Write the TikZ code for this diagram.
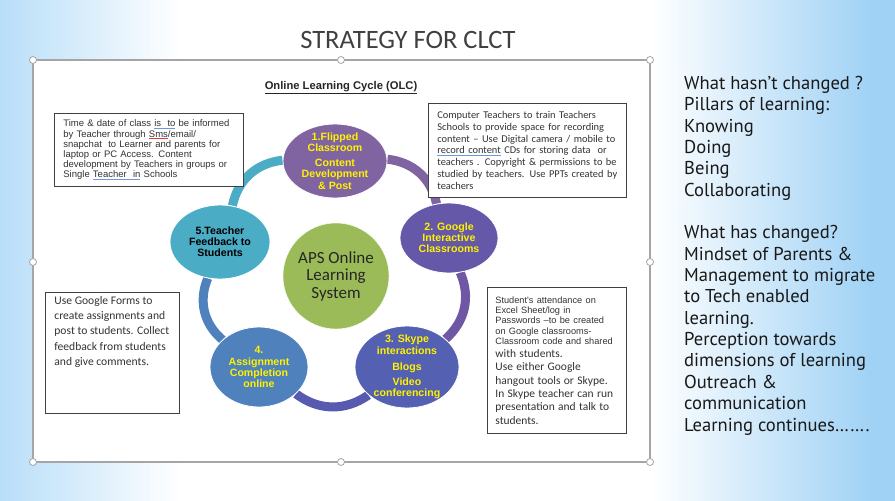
\documentclass[tikz,border=0pt]{standalone}
\usepackage{fontspec}
\setmainfont{Carlito}
\newfontfamily\arialfont{Liberation Sans}
\newfontfamily\notefont{PT Sans}
\usepackage{tikz}
\usetikzlibrary{shapes.geometric}
\usetikzlibrary{backgrounds}

\definecolor{skyleft}{RGB}{184,222,248}
\definecolor{skyright}{RGB}{160,210,245}
\definecolor{framegray}{RGB}{165,165,165}
\definecolor{olcgreen}{RGB}{155,187,89}
\definecolor{olcone}{RGB}{128,100,162}
\definecolor{olctwo}{RGB}{101,88,168}
\definecolor{olcthree}{RGB}{84,96,178}
\definecolor{olcfour}{RGB}{79,129,189}
\definecolor{olcfive}{RGB}{75,172,198}
\definecolor{ringtwo}{RGB}{110,88,166}
\definecolor{ringthree}{RGB}{88,90,176}
\definecolor{spellblue}{RGB}{110,150,220}
\definecolor{spellred}{RGB}{220,60,60}

% spell-check marks
\newsavebox\spellbox
\newcommand\blueline[1]{\leavevmode\sbox\spellbox{#1}\rlap{\textcolor{spellblue}{\rule[-1.8pt]{\wd\spellbox}{0.8pt}}}\usebox\spellbox}
\newcommand\redline[1]{\leavevmode\sbox\spellbox{#1}\rlap{\textcolor{spellred}{\rule[-1.8pt]{\wd\spellbox}{0.8pt}}}\usebox\spellbox}

\begin{document}
\begin{tikzpicture}[x=1pt, y=-1pt,
    cyc/.style={ellipse, draw=white, line width=0.8pt, inner sep=0pt},
    cyctext/.style={align=center, text=yellow, font=\arialfont\bfseries\fontsize{10.6}{11.2}\selectfont},
    ring/.style={line width=9pt},
    box/.style={draw=black!75, line width=0.8pt, fill=white, anchor=north west, align=left, inner xsep=9pt, inner ysep=4pt, text=black!80},
    handle/.style={circle, draw=framegray, fill=white, line width=0.8pt, minimum size=7pt, inner sep=0pt}]
    \useasboundingbox (0,0) rectangle (895,501);

    % Slide
    \begin{scope}[on background layer]
        \fill[white] (0,0) rectangle (895,501);
        \shade[left color=skyleft, right color=white] (0,0) rectangle (180,501);
        \shade[left color=white, right color=skyright] (650,0) rectangle (870,501);
        \fill[skyright] (870,0) rectangle (895,501);
        \draw[framegray, line width=1.2pt, fill=white] (33,60) rectangle (650,462);
    \end{scope}
    \node[font=\fontsize{26.5}{30}\selectfont, text=black!75] (title) at (408,40) {STRATEGY FOR CLCT};
    \foreach \hx/\hy [count=\i] in {33/60, 341/60, 650/60, 33/262, 650/262, 33/462, 341/462, 650/462}
        \node[handle] (h\i) at (\hx,\hy) {};

    % Cycle
    \node[font=\arialfont\bfseries\fontsize{11.2}{13}\selectfont, text=black!85] (olc) at (341,88) {\underline{Online Learning Cycle (OLC)}};
    \node[circle, draw=white, fill=olcgreen, minimum size=106pt, inner sep=0pt, align=center, font=\fontsize{17}{17.5}\selectfont, text=black!85] (aps) at (336,276) {APS Online\\Learning\\System};

    \node[cyc, fill=olcone, minimum width=104pt, minimum height=74pt,
        label={[cyctext]center:1.Flipped\\Classroom\\[4pt]Content\\Development\\\& Post}] (1) at (335,161) {};
    \node[cyc, fill=olctwo, minimum width=98pt, minimum height=70pt,
        label={[cyctext]center:2. Google\\Interactive\\Classrooms}] (2) at (449,238) {};
    \node[cyc, fill=olcthree, minimum width=104pt, minimum height=82pt,
        label={[cyctext]center:3. Skype\\interactions\\[5pt]Blogs\\[4pt]Video\\conferencing}] (3) at (407,367) {};
    \node[cyc, fill=olcfour, minimum width=98pt, minimum height=80pt,
        label={[cyctext]center:4.\\Assignment\\Completion\\online}] (4) at (259,367) {};
    \node[cyc, fill=olcfive, minimum width=100pt, minimum height=74pt,
        label={[cyctext, text=black]center:5.Teacher\\Feedback to\\Students}] (5) at (220,242) {};

    \begin{scope}[on background layer]
        \draw[ring, draw=olcone] (1) to[bend left=36] (2);
        \draw[ring, draw=ringtwo] (2) to[bend left=36] (3);
        \draw[ring, draw=ringthree] (3) to[bend left=36] (4);
        \draw[ring, draw=olcfour] (4) to[bend left=36] (5);
        \draw[ring, draw=olcfive] (5) to[bend left=36] (1);
    \end{scope}

    % Notes
    \node[box, font=\arialfont\fontsize{9.5}{10.2}\selectfont, text width=171pt, minimum height=73pt] (t1) at (54,113)
        {Time \& date of class \blueline{is\ \ to} be informed\\by Teacher through \redline{Sms}/email/\\snapchat \ to Learner and parents for\\laptop or PC Access. Content\\development by Teachers in groups or\\Single \blueline{Teacher\ \ in} Schools};
    \node[box, font=\fontsize{10.4}{11.7}\selectfont, text width=180pt, minimum height=94pt] (t2) at (428,103)
        {Computer Teachers to train Teachers\\Schools to provide space for recording\\content – Use Digital camera / mobile to\\\blueline{record\ content} CDs for storing data \ or\\teachers . Copyright \& permissions to be\\studied by teachers. Use PPTs created by\\teachers};
    \node[box, font=\fontsize{11.6}{15.2}\selectfont] (t3) at (45,292)
        {\parbox[c][113pt][t]{116pt}{\raggedright Use Google Forms to\\create assignments and\\post to students. Collect\\feedback from students\\and give comments.}};
    \node[box, inner xsep=8pt, text width=123pt, minimum height=146pt] (t4) at (487,287)
        {{\arialfont\fontsize{9.2}{10.3}\selectfont Student's attendance on\\Excel Sheet/log in\\Passwords –to be created\\on Google classrooms-\\Classroom code and shared\par}
        {\fontsize{11.5}{13.3}\selectfont with students.\\Use either Google\\hangout tools or Skype.\\In Skype teacher can run\\presentation and talk to\\students.\par}};

    % Right column
    \node[anchor=north west, align=left, inner sep=0pt, text=black!90, font=\notefont\fontsize{18.6}{21.35}\selectfont] (notes) at (684,76)
        {What hasn’t changed ?\\Pillars of learning:\\Knowing\\Doing\\Being\\Collaborating\\[21.35pt]What has changed?\\Mindset of Parents \&\\Management to migrate\\to Tech enabled\\learning.\\Perception towards\\dimensions of learning\\Outreach \&\\communication\\Learning continues…….};
\end{tikzpicture}
\end{document}
